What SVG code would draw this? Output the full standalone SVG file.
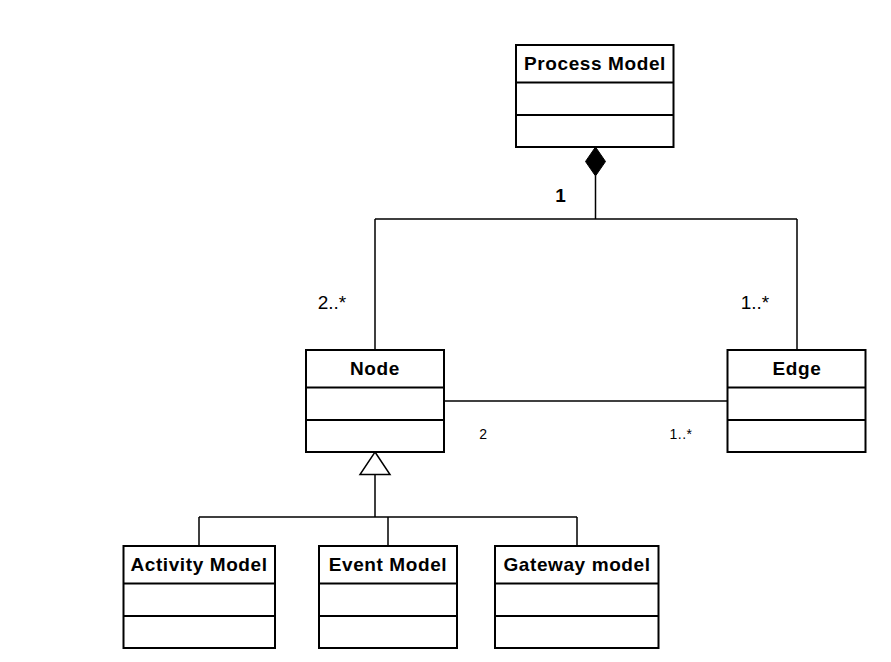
<svg xmlns="http://www.w3.org/2000/svg" width="891" height="662" viewBox="0 0 891 662">
<style>
.box{fill:#fff;stroke:#000;stroke-width:2}
.div{stroke:#000;stroke-width:2}
.ln{fill:none;stroke:#000;stroke-width:1.5}
.t{font-family:"Liberation Sans",Arial,sans-serif;font-weight:bold;font-size:19px;text-anchor:middle;letter-spacing:0.6px;fill:#000}
.m{font-family:"Liberation Sans",Arial,sans-serif;font-size:19px;fill:#000;text-anchor:middle}
.s{font-family:"Liberation Sans",Arial,sans-serif;font-size:14px;fill:#000;text-anchor:middle;letter-spacing:0.5px}
</style>
<rect width="891" height="662" fill="#fff"/>
<g id="connectors">
<polygon points="595.5,147 605.5,161.5 595.5,176 585.5,161.5" fill="#000" stroke="#000" stroke-width="1"/>
<path class="ln" d="M595.5,176 V219 M375,219 H797 M375,219 V350 M797,219 V350"/>
<path class="ln" d="M444,401 H727"/>
<polygon points="375,452 390,474.5 360,474.5" fill="#fff" stroke="#000" stroke-width="1.5"/>
<path class="ln" d="M375,474.5 V517 M199,517 H577 M199,517 V546 M388,517 V546 M577,517 V546"/>
<text class="m" x="560.5" y="202" font-weight="bold" font-size="20">1</text>
<text class="m" x="332" y="309">2..*</text>
<text class="m" x="755" y="309">1..*</text>
<text class="s" x="483.5" y="439">2</text>
<text class="s" x="681" y="439">1..*</text>
</g>
<g id="process-model">
<rect class="box" x="516" y="45" width="157.5" height="102"/>
<path class="div" d="M516,82.5 H673.5 M516,115 H673.5"/>
<text class="t" x="595" y="70">Process Model</text>
</g>
<g id="node">
<rect class="box" x="306" y="350" width="138" height="102"/>
<path class="div" d="M306,387.5 H444 M306,420 H444"/>
<text class="t" x="375" y="375">Node</text>
</g>
<g id="edge">
<rect class="box" x="727.5" y="350" width="138" height="102"/>
<path class="div" d="M727.5,387.5 H865.5 M727.5,420 H865.5"/>
<text class="t" x="797" y="375">Edge</text>
</g>
<g id="activity-model">
<rect class="box" x="123.5" y="546" width="151.5" height="102"/>
<path class="div" d="M123.5,583.5 H275 M123.5,616 H275"/>
<text class="t" x="199" y="571">Activity Model</text>
</g>
<g id="event-model">
<rect class="box" x="319" y="546" width="138" height="102"/>
<path class="div" d="M319,583.5 H457 M319,616 H457"/>
<text class="t" x="388" y="571">Event Model</text>
</g>
<g id="gateway-model">
<rect class="box" x="495" y="546" width="163.5" height="102"/>
<path class="div" d="M495,583.5 H658.5 M495,616 H658.5"/>
<text class="t" x="577" y="571">Gateway model</text>
</g>
</svg>
